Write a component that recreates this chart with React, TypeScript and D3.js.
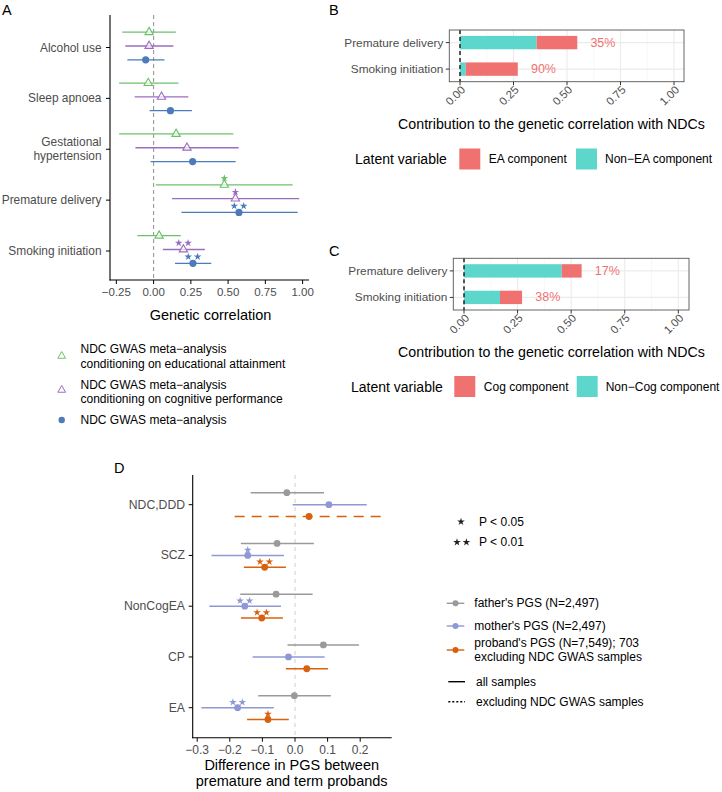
import React from "react";
import * as d3 from "d3";

// ---------- Panel A data ----------
const traitsA = ["Alcohol use", "Sleep apnoea", "Gestational hypertension", "Premature delivery", "Smoking initiation"];
const eaEst = [-0.03, -0.036, 0.151, 0.475, 0.037];
const eaLo = [-0.21, -0.231, -0.231, 0.015, -0.109];
const eaHi = [0.149, 0.167, 0.535, 0.933, 0.182];
const eaStars = ["", "", "", "*", ""];
const cogEst = [-0.03, 0.053, 0.224, 0.549, 0.2];
const cogLo = [-0.19, -0.127, -0.122, 0.124, 0.062];
const cogHi = [0.133, 0.233, 0.571, 0.977, 0.344];
const cogStars = ["", "", "", "*", "**"];
const metaEst = [-0.053, 0.113, 0.262, 0.573, 0.264];
const metaLo = [-0.176, -0.027, -0.02, 0.187, 0.144];
const metaHi = [0.073, 0.257, 0.551, 0.967, 0.387];
const metaStars = ["", "", "", "**", "**"];
const ticksA = [-0.25, 0, 0.25, 0.5, 0.75, 1.0];
const legendA = [
  ["NDC GWAS meta\u2212analysis", "conditioning on educational attainment"],
  ["NDC GWAS meta\u2212analysis", "conditioning on cognitive performance"],
  ["NDC GWAS meta\u2212analysis"],
];

// ---------- Panel B / C data ----------
const traitsBC = ["Premature delivery", "Smoking initiation"];
const bNonEA = [0.358, 0.027];
const bEA = [0.19, 0.243];
const bPct = ["35%", "90%"];
const cNonCog = [0.456, 0.168];
const cCog = [0.093, 0.103];
const cPct = ["17%", "38%"];
const ticksBC = [0, 0.25, 0.5, 0.75, 1.0];
const minorBC = [0.125, 0.375, 0.625, 0.875];

// ---------- Panel D data ----------
const pgs = ["NDC,DDD", "SCZ", "NonCogEA", "CP", "EA"];
const faEst = [-0.025, -0.055, -0.058, 0.087, -0.002];
const faLo = [-0.136, -0.166, -0.168, -0.023, -0.113];
const faHi = [0.089, 0.058, 0.054, 0.196, 0.11];
const moEst = [0.104, -0.145, -0.154, -0.02, -0.176];
const moLo = [-0.007, -0.256, -0.263, -0.13, -0.287];
const moHi = [0.22, -0.034, -0.043, 0.091, -0.065];
const moStars = ["", "*", "**", "", "**"];
const prEst = [0.043, -0.093, -0.102, 0.036, -0.083];
const prLo = [-0.185, -0.157, -0.166, -0.028, -0.147];
const prHi = [0.274, -0.028, -0.037, 0.101, -0.019];
const prStars = ["", "**", "**", "", "*"];
const prDashed = [true, false, false, false, false];
const ticksD = [-0.3, -0.2, -0.1, 0.0, 0.1, 0.2];
const legendD = ["father's PGS (N=2,497)", "mother's PGS (N=2,497)"];

const FONT = "'Liberation Sans', Arial, Helvetica, sans-serif";
const GREEN = "#6cc06a";
const PURPLE = "#9d6cbf";
const BLUE = "#4b7bba";
const GREY = "#9a9a9a";
const LAV = "#8e98d4";
const ORANGE = "#d9600f";
const RED = "#f07270";
const TEAL = "#5dd6cc";
const TICK = "#4d4d4d";

const starPath = d3.symbol().type(d3.symbolStar).size(18)() as string;
const triPath = d3.symbol().type(d3.symbolTriangle).size(30)() as string;

function Stars({ n, x, y, color }: { n: number; x: number; y: number; color: string }) {
  const offs = n === 1 ? [0] : [-4.7, 4.7];
  return (
    <g>
      {offs.map((o, i) => (
        <path key={i} d={starPath} transform={`translate(${x + o},${y})`} fill={color} />
      ))}
    </g>
  );
}

function fmt2(v: number) {
  return d3.format(".2f")(v).replace("-", "\u2212");
}
function fmt1(v: number) {
  return d3.format(".1f")(v).replace("-", "\u2212");
}

function PanelA() {
  const x = d3.scaleLinear().domain([0, 1]).range([153.6, 302.6]);
  const y = d3.scalePoint().domain(traitsA).range([46, 249.5]);
  const series = [
    { est: eaEst, lo: eaLo, hi: eaHi, stars: eaStars, color: GREEN, dy: -13.8, shape: "tri" },
    { est: cogEst, lo: cogLo, hi: cogHi, stars: cogStars, color: PURPLE, dy: 0, shape: "tri" },
    { est: metaEst, lo: metaLo, hi: metaHi, stars: metaStars, color: BLUE, dy: 13.8, shape: "dot" },
  ];
  return (
    <g>
      <text x={2} y={15} fontSize={14.5} fontFamily={FONT}>A</text>
      <line x1={x(0)} x2={x(0)} y1={15} y2={280} stroke="#999" strokeWidth={1.1} strokeDasharray="4,3" />
      {series.map((s, si) =>
        traitsA.map((t, i) => {
          const cy = (y(t) as number) + s.dy;
          return (
            <g key={`${si}-${i}`}>
              <line x1={x(s.lo[i])} x2={x(s.hi[i])} y1={cy} y2={cy} stroke={s.color} strokeWidth={1.3} />
              {s.shape === "tri" ? (
                <path d={triPath} transform={`translate(${x(s.est[i])},${cy})`} fill="white" fillOpacity={0.7} stroke={s.color} strokeWidth={1.1} />
              ) : (
                <circle cx={x(s.est[i])} cy={cy} r={3.6} fill={s.color} />
              )}
              {s.stars[i] && <Stars n={s.stars[i].length} x={x(s.est[i])} y={cy - 6.5} color={s.color} />}
            </g>
          );
        })
      )}
      {/* axes */}
      <line x1={110} x2={110} y1={15} y2={280.5} stroke="black" strokeWidth={1.1} />
      <line x1={109.5} x2={309} y1={280} y2={280} stroke="black" strokeWidth={1.1} />
      {traitsA.map((t) => {
        const cy = (y(t) as number) + 1.5;
        const lines = t === "Gestational hypertension" ? ["Gestational", "hypertension"] : [t];
        return (
          <g key={t}>
            <line x1={106} x2={110} y1={cy} y2={cy} stroke="black" strokeWidth={1} />
            {lines.map((l, k) => (
              <text key={k} x={101.5} y={cy + (k - (lines.length - 1) / 2) * 14.3} textAnchor="end" dominantBaseline="central" fontSize={11.9} fill={TICK} fontFamily={FONT}>{l}</text>
            ))}
          </g>
        );
      })}
      {ticksA.map((v) => (
        <g key={v}>
          <line x1={x(v)} x2={x(v)} y1={280} y2={284} stroke="black" strokeWidth={1} />
          <text x={x(v)} y={292} textAnchor="middle" dominantBaseline="central" fontSize={11.5} fill={TICK} fontFamily={FONT}>{fmt2(v)}</text>
        </g>
      ))}
      <text x={210.5} y={315} textAnchor="middle" dominantBaseline="central" fontSize={14.5} fontFamily={FONT}>Genetic correlation</text>
      {/* legend */}
      {legendA.map((lines, i) => {
        const ky = [356, 390, 420][i];
        const ty = [349.3, 385, 420][i];
        const col = [GREEN, PURPLE, BLUE][i];
        return (
          <g key={i}>
            {i < 2 ? (
              <path d={d3.symbol().type(d3.symbolTriangle).size(26)() as string} transform={`translate(61.7,${ky})`} fill="white" stroke={col} strokeWidth={1} />
            ) : (
              <circle cx={61.7} cy={ky} r={3.2} fill={col} />
            )}
            {lines.map((l, k) => (
              <text key={k} x={80.5} y={ty + k * 14.2} dominantBaseline="central" fontSize={12} fontFamily={FONT}>{l}</text>
            ))}
          </g>
        );
      })}
    </g>
  );
}

function StackPanel({
  label, labelY, top, bottom, left, right, x0, x1, nonVals, vals, pct, legendY, redName, tealName, titleY, redX, tealX, legX,
}: any) {
  const x = d3.scaleLinear().domain([0, 1]).range([x0, x1]);
  const y = d3.scaleBand().domain(traitsBC).range([top, bottom]).paddingInner(0.85).paddingOuter(0.4);
  const bh = 13.4;
  const rowY = (t: string) => (y(t) as number) + y.bandwidth() / 2;
  return (
    <g>
      <text x={329} y={labelY} fontSize={14.5} fontFamily={FONT}>{label}</text>
      <rect x={left} y={top} width={right - left} height={bottom - top} fill="white" />
      {minorBC.map((v) => (
        <line key={v} x1={x(v)} x2={x(v)} y1={top} y2={bottom} stroke="#f2f2f2" strokeWidth={0.6} />
      ))}
      {ticksBC.map((v) => (
        <line key={v} x1={x(v)} x2={x(v)} y1={top} y2={bottom} stroke="#ebebeb" strokeWidth={1.1} />
      ))}
      {traitsBC.map((t) => (
        <line key={t} x1={left} x2={right} y1={rowY(t)} y2={rowY(t)} stroke="#ebebeb" strokeWidth={1.1} />
      ))}
      {traitsBC.map((t, i) => {
        const cy = rowY(t);
        const tot = nonVals[i] + vals[i];
        return (
          <g key={t}>
            <rect x={x(0)} y={cy - bh / 2} width={x(nonVals[i]) - x(0)} height={bh} fill={TEAL} />
            <rect x={x(nonVals[i])} y={cy - bh / 2} width={x(tot) - x(nonVals[i])} height={bh} fill={RED} />
            <text x={x(tot + 0.12)} y={cy} textAnchor="middle" dominantBaseline="central" fontSize={12.5} fill={RED} fontFamily={FONT}>{pct[i]}</text>
          </g>
        );
      })}
      <line x1={x(0)} x2={x(0)} y1={top} y2={bottom} stroke="#222" strokeWidth={1.5} strokeDasharray="4,3" />
      <rect x={left} y={top} width={right - left} height={bottom - top} fill="none" stroke="#555" strokeWidth={0.9} />
      {traitsBC.map((t) => (
        <g key={t}>
          <line x1={left - 3.5} x2={left} y1={rowY(t)} y2={rowY(t)} stroke="#333" strokeWidth={1} />
          <text x={left - 6} y={rowY(t)} textAnchor="end" dominantBaseline="central" fontSize={11.8} fill={TICK} fontFamily={FONT}>{t}</text>
        </g>
      ))}
      {ticksBC.map((v) => (
        <g key={v}>
          <line x1={x(v)} x2={x(v)} y1={bottom} y2={bottom + 3.5} stroke="#333" strokeWidth={1} />
          <text transform={`translate(${x(v) + 3},${bottom + 6}) rotate(-45)`} textAnchor="end" dominantBaseline="central" fontSize={11.3} fill={TICK} fontFamily={FONT}>{fmt2(v)}</text>
        </g>
      ))}
      <text x={551.5} y={titleY} textAnchor="middle" dominantBaseline="central" fontSize={14.2} fontFamily={FONT}>Contribution to the genetic correlation with NDCs</text>
      <text x={legX} y={legendY} dominantBaseline="central" fontSize={14} fontFamily={FONT}>Latent variable</text>
      <rect x={redX} y={legendY - 10.5} width={21} height={21} fill={RED} />
      <text x={redX + 29.5} y={legendY} dominantBaseline="central" fontSize={12} fontFamily={FONT}>{redName}</text>
      <rect x={tealX} y={legendY - 10.5} width={21} height={21} fill={TEAL} />
      <text x={tealX + 29} y={legendY} dominantBaseline="central" fontSize={12} fontFamily={FONT}>{tealName}</text>
    </g>
  );
}

function PanelD() {
  const x = d3.scaleLinear().domain([0, 0.1]).range([295, 327.6]);
  const y = d3.scalePoint().domain(pgs).range([504.7, 707.7]);
  const top = 475;
  const bottom = 737.7;
  const series = [
    { est: faEst, lo: faLo, hi: faHi, stars: pgs.map(() => ""), color: GREY, dy: -12, dashed: pgs.map(() => false) },
    { est: moEst, lo: moLo, hi: moHi, stars: moStars, color: LAV, dy: 0, dashed: pgs.map(() => false) },
    { est: prEst, lo: prLo, hi: prHi, stars: prStars, color: ORANGE, dy: 11.8, dashed: prDashed },
  ];
  return (
    <g>
      <text x={114} y={473} fontSize={14.5} fontFamily={FONT}>D</text>
      <line x1={x(0)} x2={x(0)} y1={top} y2={bottom} stroke="#d6d6d6" strokeWidth={1.2} strokeDasharray="4,4" />
      {series.map((s, si) =>
        pgs.map((p, i) => {
          const cy = (y(p) as number) + s.dy;
          return (
            <g key={`${si}-${i}`}>
              <line x1={x(s.lo[i])} x2={x(s.hi[i])} y1={cy} y2={cy} stroke={s.color} strokeWidth={1.4} strokeDasharray={s.dashed[i] ? "10,7" : undefined} />
              <circle cx={x(s.est[i])} cy={cy} r={3.4} fill={s.color} />
              {s.stars[i] && <Stars n={s.stars[i].length} x={x(s.est[i])} y={cy - 5.5} color={s.color} />}
            </g>
          );
        })
      )}
      <line x1={192.7} x2={192.7} y1={top} y2={bottom + 0.5} stroke="black" strokeWidth={1.1} />
      <line x1={192.2} x2={391.7} y1={bottom} y2={bottom} stroke="black" strokeWidth={1.1} />
      {pgs.map((p) => (
        <g key={p}>
          <line x1={188.7} x2={192.7} y1={y(p) as number} y2={y(p) as number} stroke="black" strokeWidth={1} />
          <text x={185} y={y(p) as number} textAnchor="end" dominantBaseline="central" fontSize={12.2} fill={TICK} fontFamily={FONT}>{p}</text>
        </g>
      ))}
      {ticksD.map((v) => (
        <g key={v}>
          <line x1={x(v)} x2={x(v)} y1={bottom} y2={bottom + 4} stroke="black" strokeWidth={1} />
          <text x={x(v)} y={749.5} textAnchor="middle" dominantBaseline="central" fontSize={12} fill={TICK} fontFamily={FONT}>{fmt1(v)}</text>
        </g>
      ))}
      <text x={291.7} y={765} textAnchor="middle" dominantBaseline="central" fontSize={14.5} fontFamily={FONT}>Difference in PGS between</text>
      <text x={291.7} y={781} textAnchor="middle" dominantBaseline="central" fontSize={14.5} fontFamily={FONT}>premature and term probands</text>
      {/* significance legend */}
      <Stars n={1} x={461} y={521.7} color="#222" />
      <text x={479} y={521.7} dominantBaseline="central" fontSize={12} fontFamily={FONT}>P &lt; 0.05</text>
      <Stars n={2} x={461.7} y={542.3} color="#222" />
      <text x={479} y={542.3} dominantBaseline="central" fontSize={12} fontFamily={FONT}>P &lt; 0.01</text>
      {/* colour legend */}
      {[GREY, LAV, ORANGE].map((c, i) => {
        const ky = [603.3, 626, 650][i];
        return (
          <g key={c}>
            <line x1={446.7} x2={464.3} y1={ky} y2={ky} stroke={c} strokeWidth={1.4} />
            <circle cx={455.5} cy={ky} r={3} fill={c} />
          </g>
        );
      })}
      {legendD.map((t, i) => (
        <text key={t} x={474.3} y={[603.3, 626][i]} dominantBaseline="central" fontSize={12} fontFamily={FONT}>{t}</text>
      ))}
      <text x={474.3} y={643.3} dominantBaseline="central" fontSize={12} fontFamily={FONT}>proband's PGS (N=7,549); 703</text>
      <text x={474.3} y={656.7} dominantBaseline="central" fontSize={12} fontFamily={FONT}>excluding NDC GWAS samples</text>
      <line x1={448.3} x2={465} y1={681.7} y2={681.7} stroke="black" strokeWidth={1.4} />
      <text x={476} y={681.7} dominantBaseline="central" fontSize={12} fontFamily={FONT}>all samples</text>
      <line x1={448.3} x2={465} y1={701.7} y2={701.7} stroke="black" strokeWidth={1.4} strokeDasharray="2,2" />
      <text x={476} y={701.7} dominantBaseline="central" fontSize={12} fontFamily={FONT}>excluding NDC GWAS samples</text>
    </g>
  );
}

export default function App() {
  return (
    <div style={{ position: "absolute", left: 0, top: 0 }}>
      <svg width={722} height={792} viewBox="0 0 722 792" style={{ display: "block", background: "white" }}>
        <PanelA />
        <StackPanel
          label="B" labelY={15} top={30} bottom={81.7} left={449.3} right={684} x0={460} x1={674}
          nonVals={bNonEA} vals={bEA} pct={bPct} legendY={159} redName="EA component" tealName={"Non\u2212EA component"}
          titleY={124} redX={459.3} tealX={576} legX={355}
        />
        <StackPanel
          label="C" labelY={256} top={258.3} bottom={310} left={453.3} right={689} x0={464} x1={678.3}
          nonVals={cNonCog} vals={cCog} pct={cPct} legendY={386.5} redName="Cog component" tealName={"Non\u2212Cog component"}
          titleY={351.7} redX={454.3} tealX={576.7} legX={351}
        />
        <PanelD />
      </svg>
    </div>
  );
}
